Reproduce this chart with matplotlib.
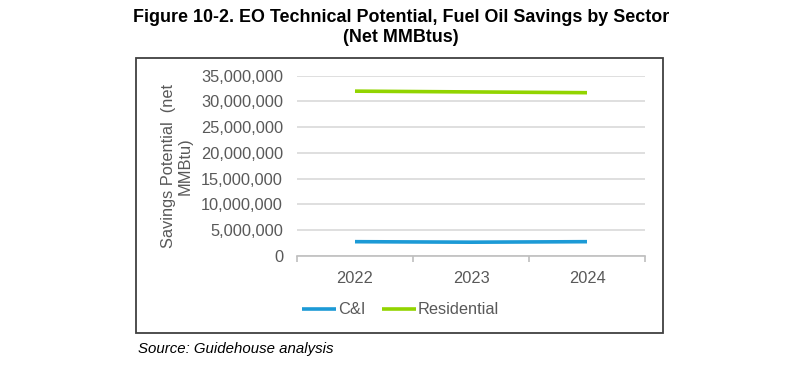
import matplotlib.pyplot as plt
from matplotlib.patches import Rectangle
from matplotlib.ticker import FuncFormatter

plt.rcParams["font.family"] = ["Liberation Sans", "DejaVu Sans"]

years = ["2022", "2023", "2024"]
ci = [2780000, 2680000, 2780000]
residential = [32000000, 31850000, 31700000]

fig = plt.figure(figsize=(7.85, 3.83), dpi=100)
W, H = 785, 383

# outer frame around the chart
fig.patches.append(Rectangle((135.5 / W, (H - 333) / H), (663 - 135.5) / W, (333 - 58) / H,
                             transform=fig.transFigure, fill=False, edgecolor="#404040", lw=1.3))

ax = fig.add_axes([297 / W, (H - 256) / H, (645 - 297) / W, (256 - 75.7) / H])
x = range(len(years))
ax.plot(x, ci, color="#1C9AD6", lw=2.6, label="C&I", solid_capstyle="butt")
ax.plot(x, residential, color="#92D400", lw=2.6, label="Residential", solid_capstyle="butt")

ax.set_xlim(-0.5, 2.5)
ax.set_ylim(0, 35000000)
ax.set_yticks(range(0, 35000001, 5000000))
ax.yaxis.set_major_formatter(FuncFormatter(lambda v, p: f"{int(v):,}"))
ax.set_xticks(list(x))
ax.set_xticklabels(years)
ax.set_xticks([-0.5, 0.5, 1.5, 2.5], minor=True)

ax.grid(axis="y", color="#D9D9D9", lw=1.2)
ax.set_axisbelow(True)
for s in ["top", "right", "left"]:
    ax.spines[s].set_visible(False)
ax.spines["bottom"].set_color("#BFBFBF")
ax.spines["bottom"].set_linewidth(1.2)
ax.tick_params(axis="y", length=0, pad=10, labelsize=11.8, labelcolor="#595959")
ax.tick_params(axis="x", which="major", length=0, pad=11, labelsize=11.8, labelcolor="#595959")
ax.tick_params(axis="x", which="minor", length=4, width=1.2, color="#BFBFBF")

fig.text(177 / W, (H - 166) / H, "Savings Potential  (net\nMMBtu)", rotation=90,
         ha="center", va="center", multialignment="center", fontsize=11.8,
         color="#595959", linespacing=1.1)

ax.legend(loc="center left", bbox_to_anchor=(302 / W, (H - 310) / H), bbox_transform=fig.transFigure,
          ncol=2, frameon=False, fontsize=11.8, handlelength=2.1, handletextpad=0.1,
          columnspacing=1.0, borderpad=0, borderaxespad=0, labelcolor="#595959")

fig.text(401 / W, (H - 17) / H, "Figure 10-2. EO Technical Potential, Fuel Oil Savings by Sector",
         ha="center", va="center", fontsize=12.9, fontweight="bold")
fig.text(401 / W, (H - 38) / H, "(Net MMBtus)", ha="center", va="center", fontsize=12.9, fontweight="bold")
fig.text(138 / W, (H - 349) / H, "Source: Guidehouse analysis", ha="left", va="center",
         fontsize=10.8, style="italic")

fig.savefig("out.png", dpi=100)
